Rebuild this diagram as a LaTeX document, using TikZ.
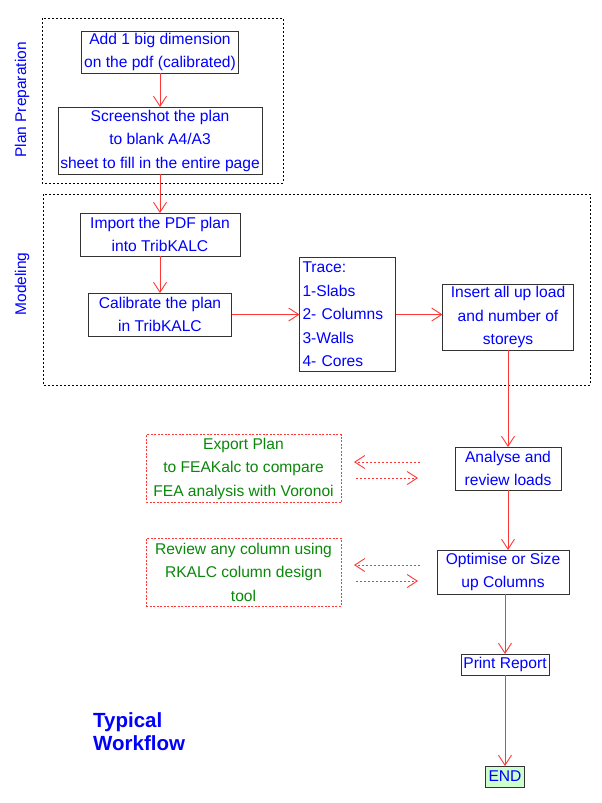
\documentclass[tikz,border=0pt]{standalone}
\usepackage{fontspec}
\setmainfont{Liberation Sans}
\usetikzlibrary{arrows.meta, positioning}
\usepackage{xcolor}
\definecolor{textBlue}{RGB}{0,0,255}
\definecolor{sideGreen}{RGB}{10,135,10}
\definecolor{lineRed}{RGB}{255,55,55}
\definecolor{endGreen}{RGB}{204,255,204}

\begin{document}
\begin{tikzpicture}[
    x=1pt, y=-1pt,
    box/.style={rectangle, draw=black!80, line width=0.9pt, outer sep=0pt, inner sep=2pt, align=center, text=textBlue, font=\fontsize{15.6}{23.5}\selectfont},
    sidebox/.style={box, draw=lineRed, line width=1pt, dash pattern=on 2pt off 1.5pt, text=sideGreen},
    frame/.style={draw=black, line width=1pt, dash pattern=on 2pt off 2pt},
    lbl/.style={text=textBlue, font=\fontsize{15.5}{18}\selectfont},
    flow/.style={draw=lineRed, line width=0.9pt, -{Straight Barb[length=10pt, width=13pt, line width=0.9pt]}},
    dotflow/.style={flow, dash pattern=on 2pt off 2pt}
]
\useasboundingbox (0,0) rectangle (602,803);

% plan preparation
\draw[frame] (42,18) rectangle (283,183);
\node[lbl, rotate=90] (planlbl) at (22,100) {Plan Preparation};
\node[box, minimum width=157pt, minimum height=42pt] (a1) at (160,52) {Add 1 big dimension\\on the pdf (calibrated)};
\node[box, minimum width=204pt, minimum height=67pt, below=34pt of a1] (a2) {Screenshot the plan\\to blank A4/A3\\sheet to fill in the entire page};

% modeling
\draw[frame] (43,194) rectangle (590,385);
\node[lbl, rotate=90] (modlbl) at (22,284) {Modeling};
\node[box, minimum width=160pt, minimum height=43pt, below=39pt of a2] (b1) {Import the PDF plan\\into TribKALC};
\node[box, minimum width=143pt, minimum height=43pt, below=37pt of b1] (b2) {Calibrate the plan\\in TribKALC};
\node[box, text width=90pt, inner sep=3pt, align=left, minimum height=114pt, right=68pt of b2] (trace) {Trace:\\1-Slabs\\2- Columns\\3-Walls\\4- Cores};
\node[box, minimum width=131pt, minimum height=66pt, right=47pt of trace, yshift=-2.5pt] (insert) {Insert all up load\\and number of\\storeys};

% analysis and output
\node[box, minimum width=106pt, minimum height=43pt, below=97pt of insert] (analyse) {Analyse and\\review loads};
\node[box, minimum width=132pt, minimum height=44pt, below=60pt of analyse, xshift=-5pt] (optimise) {Optimise or Size\\up Columns};
\node[box, minimum width=88pt, minimum height=21pt, inner sep=1pt, below=60pt of optimise, xshift=2pt] (report) {Print Report};
\node[box, fill=endGreen, minimum width=39pt, minimum height=21pt, inner sep=1pt, below=91pt of report] (finish) {END};

% side tools
\node[sidebox, minimum width=195pt, minimum height=68pt, left=114pt of analyse] (export) {Export Plan\\to FEAKalc to compare\\FEA analysis with Voronoi};
\node[sidebox, minimum width=195pt, minimum height=68pt, left=96pt of optimise] (review) {Review any column using\\RKALC column design\\tool};

\node[anchor=west, align=left, inner sep=2pt, text=textBlue, font=\fontsize{20.5}{23}\selectfont\bfseries] (title) at (91,731.5) {Typical\\Workflow};

% connectors
\draw[flow] (a1) -- (a2);
\draw[flow] (a2) -- (b1);
\draw[flow] (b1) -- (b2);
\draw[flow] (b2) -- (trace);
\draw[flow] (trace.east) -- (trace.east -| insert.west);
\draw[flow] (insert) -- (analyse);
\draw[flow] (analyse.south) -- (analyse.south |- optimise.north);
\draw[flow] (report.north |- optimise.south) -- (report.north);
\draw[flow] (report) -- (finish);

\draw[dotflow] ([shift={(-35,-6.5)}]analyse.west) -- ([shift={(13,-6.5)}]export.east);
\draw[dotflow] ([shift={(15,9.5)}]export.east) -- ([shift={(-37,9.5)}]analyse.west);
\draw[dotflow] ([shift={(-17,-7)}]optimise.west) -- ([shift={(13,-7)}]review.east);
\draw[dotflow] ([shift={(15,9)}]review.east) -- ([shift={(-19,9)}]optimise.west);
\end{tikzpicture}
\end{document}
